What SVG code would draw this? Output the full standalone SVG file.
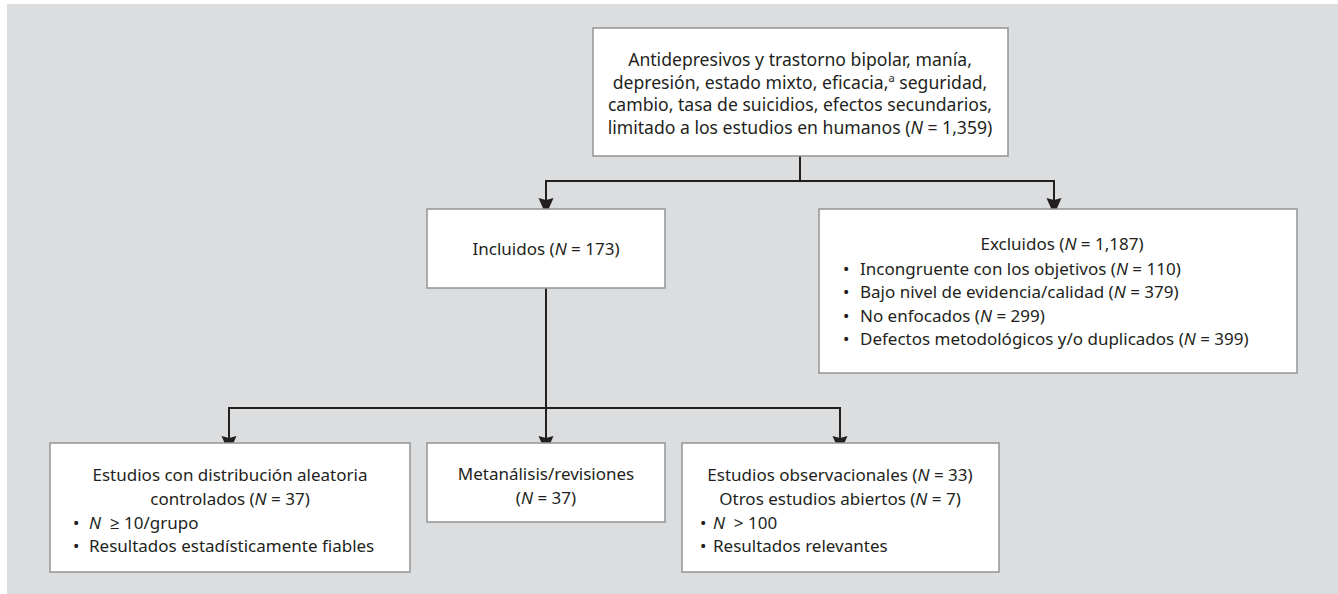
<svg xmlns="http://www.w3.org/2000/svg" width="1338" height="594" viewBox="0 0 1338 594">
  <style>
    .box { fill: #ffffff; stroke: #929497; stroke-width: 1.5; }
    .t { font-family: "Noto Sans", "Open Sans", sans-serif; font-size: 17px; fill: #231f20; }
    .tl { font-size: 17.6px; }
    .c { text-anchor: middle; }
    .i { font-style: italic; }
    .conn { fill: none; stroke: #231f20; stroke-width: 2; }
    .head { fill: #231f20; }
  </style>
  <defs>
    <path id="ah" class="head" d="M0,0 L-7.5,-17 L0,-15 L7.5,-17 Z"/>
  </defs>
  <rect x="7" y="4" width="1331" height="590" fill="#dcdddf"/>

  <g id="connectors">
    <path class="conn" d="M800,156 V181"/>
    <path class="conn" d="M800,181 H546 V205"/>
    <path class="conn" d="M800,181 H1054 V205"/>
    <path class="conn" d="M546,288 V443"/>
    <path class="conn" d="M546,408 H229 V443"/>
    <path class="conn" d="M546,408 H840 V443"/>
    <use href="#ah" x="546" y="215"/>
    <use href="#ah" x="1054" y="215"/>
    <use href="#ah" x="229" y="453"/>
    <use href="#ah" x="546" y="453"/>
    <use href="#ah" x="840" y="453"/>
  </g>

  <g id="top">
    <rect class="box" x="593" y="28" width="415" height="128"/>
    <text class="t tl c" x="800" y="66">Antidepresivos y trastorno bipolar, manía,</text>
    <text class="t tl c" x="800" y="89">depresión, estado mixto, eficacia,<tspan baseline-shift="super" font-size="11">a</tspan> seguridad,</text>
    <text class="t tl c" x="800" y="111">cambio, tasa de suicidios, efectos secundarios,</text>
    <text class="t tl c" x="800" y="134">limitado a los estudios en humanos (<tspan class="i">N</tspan> = 1,359)</text>
  </g>

  <g id="incluidos">
    <rect class="box" x="427" y="209" width="238" height="79"/>
    <text class="t c" x="546" y="255">Incluidos (<tspan class="i">N</tspan> = 173)</text>
  </g>

  <g id="excluidos">
    <rect class="box" x="819" y="209" width="478" height="164"/>
    <text class="t c" x="1062" y="250">Excluidos (<tspan class="i">N</tspan> = 1,187)</text>
    <text class="t" y="275"><tspan x="843">•</tspan><tspan x="860">Incongruente con los objetivos (<tspan class="i">N</tspan> = 110)</tspan></text>
    <text class="t" y="298"><tspan x="843">•</tspan><tspan x="860">Bajo nivel de evidencia/calidad (<tspan class="i">N</tspan> = 379)</tspan></text>
    <text class="t" y="322"><tspan x="843">•</tspan><tspan x="860">No enfocados (<tspan class="i">N</tspan> = 299)</tspan></text>
    <text class="t" y="345"><tspan x="843">•</tspan><tspan x="860">Defectos metodológicos y/o duplicados (<tspan class="i">N</tspan> = 399)</tspan></text>
  </g>

  <g id="aleatoria">
    <rect class="box" x="50" y="443" width="360" height="129"/>
    <text class="t c" x="230" y="481">Estudios con distribución aleatoria</text>
    <text class="t c" x="230" y="505">controlados (<tspan class="i">N</tspan> = 37)</text>
    <text class="t" y="529"><tspan x="73">•</tspan><tspan x="89"><tspan class="i">N</tspan>&#160; ≥ 10/grupo</tspan></text>
    <text class="t" y="552"><tspan x="73">•</tspan><tspan x="89">Resultados estadísticamente fiables</tspan></text>
  </g>

  <g id="metanalisis">
    <rect class="box" x="427" y="443" width="238" height="79"/>
    <text class="t c" x="546" y="480">Metanálisis/revisiones</text>
    <text class="t c" x="546" y="504">(<tspan class="i">N</tspan> = 37)</text>
  </g>

  <g id="observacionales">
    <rect class="box" x="682" y="443" width="317" height="129"/>
    <text class="t c" x="840" y="481">Estudios observacionales (<tspan class="i">N</tspan> = 33)</text>
    <text class="t c" x="840" y="505">Otros estudios abiertos (<tspan class="i">N</tspan> = 7)</text>
    <text class="t" y="529"><tspan x="700">•</tspan><tspan x="713"><tspan class="i">N</tspan>&#160; &gt; 100</tspan></text>
    <text class="t" y="552"><tspan x="700">•</tspan><tspan x="713">Resultados relevantes</tspan></text>
  </g>
</svg>
